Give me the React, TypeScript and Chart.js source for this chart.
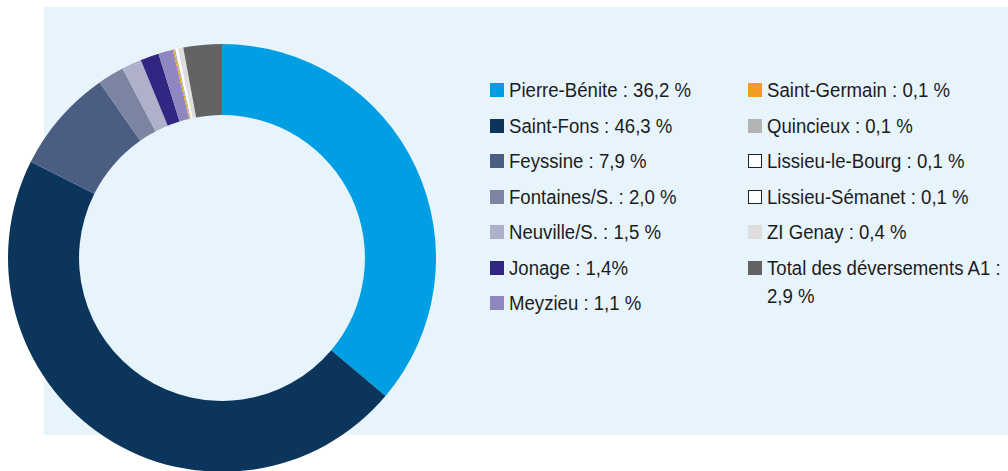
import React, { useEffect, useRef } from "react";
import { Chart, registerables } from "chart.js";

Chart.register(...registerables);

const categories = [
  "Pierre-Bénite",
  "Saint-Fons",
  "Feyssine",
  "Fontaines/S.",
  "Neuville/S.",
  "Jonage",
  "Meyzieu",
  "Saint-Germain",
  "Quincieux",
  "Lissieu-le-Bourg",
  "Lissieu-Sémanet",
  "ZI Genay",
  "Total des déversements A1",
];

const values = [36.2, 46.3, 7.9, 2.0, 1.5, 1.4, 1.1, 0.1, 0.1, 0.1, 0.1, 0.4, 2.9];

const valueLabels = [
  "36,2 %",
  "46,3 %",
  "7,9 %",
  "2,0 %",
  "1,5 %",
  "1,4%",
  "1,1 %",
  "0,1 %",
  "0,1 %",
  "0,1 %",
  "0,1 %",
  "0,4 %",
  "2,9 %",
];

const colors = [
  "#009FE3",
  "#0B355B",
  "#4B5E81",
  "#7B84A1",
  "#AEB1C9",
  "#312783",
  "#8F87BF",
  "#F39C1F",
  "#B3B3B3",
  "#FFFFFF",
  "#FFFFFF",
  "#DEDEDE",
  "#636363",
];

const FONT = "'Liberation Sans', Arial, sans-serif";

export default function App() {
  const ref = useRef<HTMLCanvasElement | null>(null);

  useEffect(() => {
    if (!ref.current) return;
    const chart = new Chart(ref.current, {
      type: "doughnut",
      data: {
        labels: categories,
        datasets: [
          {
            data: values,
            backgroundColor: colors,
            borderWidth: 0,
          },
        ],
      },
      options: {
        animation: false,
        responsive: false,
        maintainAspectRatio: false,
        cutout: "66.8%",
        layout: { padding: 0 },
        plugins: {
          legend: { display: false },
          tooltip: { enabled: false },
        },
      },
    });
    return () => chart.destroy();
  }, []);

  const leftRows = [0, 1, 2, 3, 4, 5, 6];
  const rightRows = [7, 8, 9, 10, 11, 12];

  const renderItem = (i: number, row: number, x: number) => {
    const isWhite = colors[i] === "#FFFFFF";
    const last = i === categories.length - 1;
    return (
      <div
        key={i}
        style={{
          position: "absolute",
          left: x,
          top: 78 + row * 35.5,
          whiteSpace: "nowrap",
          fontFamily: FONT,
          fontSize: 20,
          lineHeight: "28px",
          color: "#1c1c1c",
        }}
      >
        <span
          style={{
            position: "absolute",
            left: 0,
            top: 5,
            width: isWhite ? 12 : 14,
            height: isWhite ? 12 : 14,
            background: colors[i],
            border: isWhite ? "1px solid #222" : "none",
          }}
        />
        <div
          style={{
            position: "absolute",
            left: 19,
            top: -2,
            transform: "scaleX(0.93)",
            transformOrigin: "0 0",
          }}
        >
          {last ? (
            <>
              {`${categories[i]} :`}
              <br />
              {valueLabels[i]}
            </>
          ) : (
            `${categories[i]} : ${valueLabels[i]}`
          )}
        </div>
      </div>
    );
  };

  return (
    <div
      style={{
        position: "fixed",
        left: 0,
        top: 0,
        width: 1008,
        height: 471,
        overflow: "hidden",
        background: "#fff",
      }}
    >
      <div
        style={{
          position: "absolute",
          left: 44,
          top: 7,
          width: 964,
          height: 428,
          background: "#E8F4FC",
        }}
      />
      <canvas
        ref={ref}
        width={428}
        height={428}
        style={{ position: "absolute", left: 8, top: 44, width: 428, height: 428 }}
      />
      {leftRows.map((i, r) => renderItem(i, r, 490))}
      {rightRows.map((i, r) => renderItem(i, r, 748))}
    </div>
  );
}
